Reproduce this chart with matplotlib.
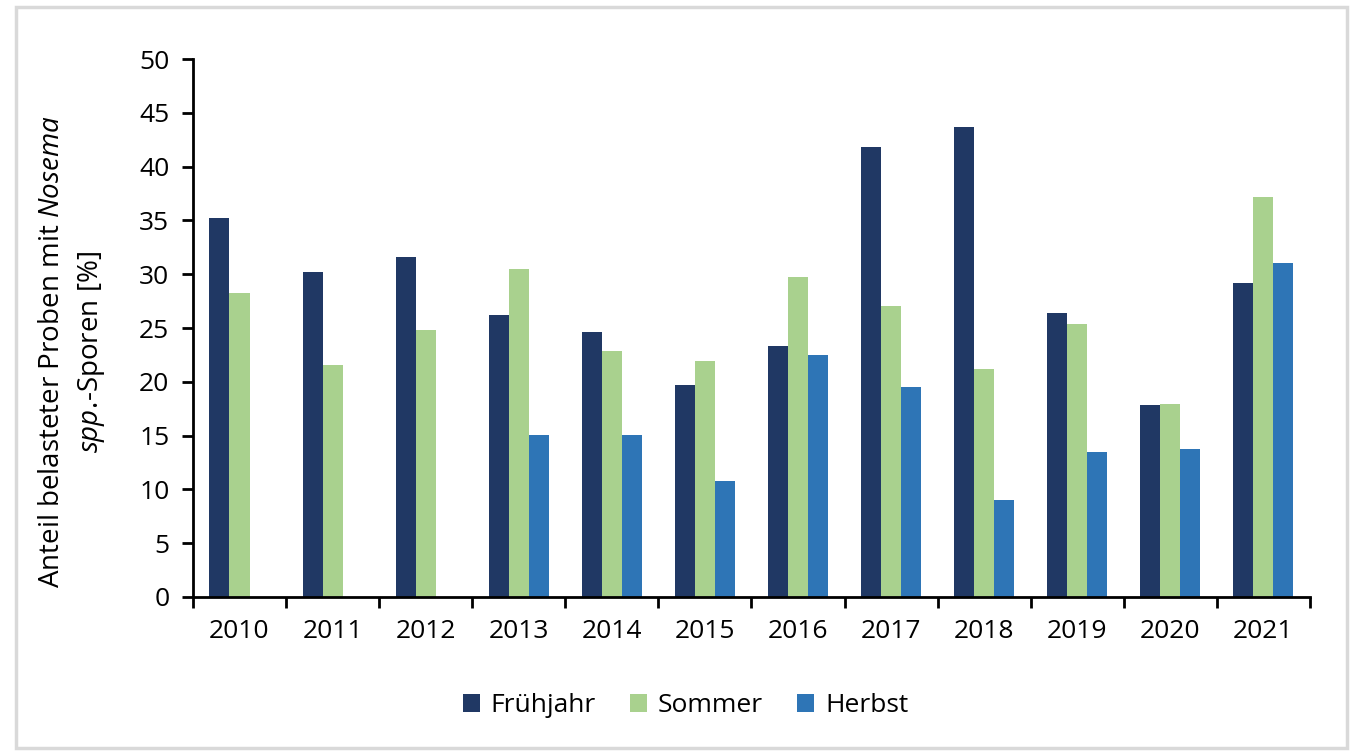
import matplotlib.pyplot as plt
import numpy as np
from matplotlib.patches import Rectangle

plt.rcParams['font.family'] = ['Open Sans', 'DejaVu Sans']
plt.rcParams['mathtext.fontset'] = 'custom'
plt.rcParams['mathtext.rm'] = 'Open Sans'
plt.rcParams['mathtext.it'] = 'Open Sans:italic'

years = ['2010', '2011', '2012', '2013', '2014', '2015',
         '2016', '2017', '2018', '2019', '2020', '2021']
fruehjahr = [35.2, 30.2, 31.6, 26.2, 24.6, 19.7, 23.3, 41.8, 43.7, 26.4, 17.8, 29.2]
sommer = [28.3, 21.6, 24.8, 30.5, 22.9, 21.9, 29.7, 27.0, 21.2, 25.4, 17.9, 37.2]
herbst = [np.nan, np.nan, np.nan, 15.1, 15.1, 10.8, 22.5, 19.5, 9.0, 13.5, 13.8, 31.0]

series = [('Frühjahr', fruehjahr, '#203864'),
          ('Sommer', sommer, '#A9D18E'),
          ('Herbst', herbst, '#2E75B6')]

fig = plt.figure(figsize=(13.56, 7.53), dpi=100)
# light grey frame around the whole picture
fig.patches.append(Rectangle((0.012, 0.006), 0.981, 0.985, transform=fig.transFigure,
                             fill=False, edgecolor='#d9d9d9', linewidth=2.5))

ax = fig.add_axes([0.1423, 0.2072, 0.8237, 0.7144])

x = np.arange(len(years))
w = 0.215
for i, (name, vals, col) in enumerate(series):
    ax.bar(x + (i - 1) * w, vals, width=w, color=col, label=name,
           edgecolor='none')

ax.set_xlim(-0.5, len(years) - 0.5)
ax.set_ylim(0, 50)
ax.set_yticks(range(0, 51, 5))
ax.set_xticks(x)
ax.set_xticklabels(years)
ax.set_xticks(np.arange(-0.5, len(years)), minor=True)
ax.tick_params(axis='x', which='major', length=0, pad=16, labelsize=19)
ax.tick_params(axis='x', which='minor', length=8, width=2, direction='out')
ax.tick_params(axis='y', length=8, width=2, direction='out', pad=9, labelsize=19)

for s in ['top', 'right']:
    ax.spines[s].set_visible(False)
for s in ['left', 'bottom']:
    ax.spines[s].set_linewidth(2)

ax.set_ylabel('Anteil belasteter Proben mit $\\it{Nosema}$\n$\\it{spp.}\\!$-Sporen [%]',
              fontsize=20, linespacing=1.45)
ax.yaxis.set_label_coords(-0.077, 0.455)

ax.legend(loc='upper center', bbox_to_anchor=(0.441, -0.135), ncol=3, frameon=False,
          fontsize=19, handlelength=0.65, handleheight=0.65, handletextpad=0.4,
          columnspacing=1.3)

fig.savefig('out.png', dpi=100)
